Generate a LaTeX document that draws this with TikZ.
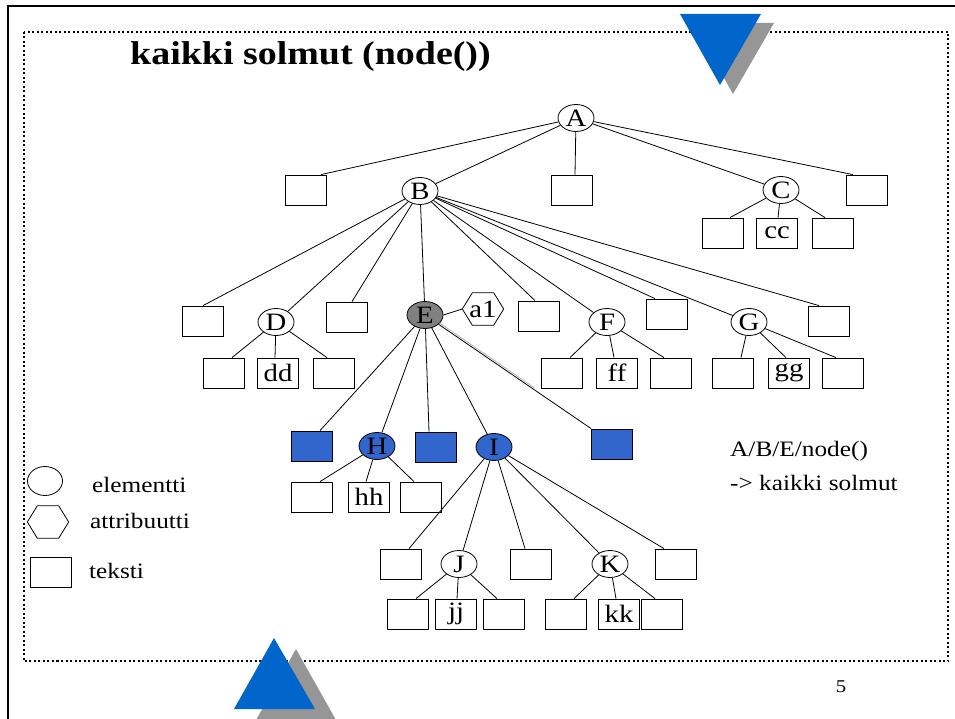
\documentclass[tikz,border=0pt]{standalone}
\usepackage{fontspec}
\setmainfont{Liberation Serif}[FakeStretch=1.15]
\usetikzlibrary{shapes.geometric}
\definecolor{triblue}{HTML}{0066CC}
\definecolor{trigray}{HTML}{969696}
\definecolor{nodeblue}{HTML}{3366CC}
\definecolor{egray}{HTML}{808080}
\newcommand{\lblfont}{\fontsize{22}{26}\selectfont}
\newcommand{\nodefont}{\fontsize{25}{28}\selectfont}
\newcommand{\titlefont}{\fontsize{33}{38}\selectfont\bfseries}
\begin{document}
\begin{tikzpicture}[x=1pt,y=-1pt,
  el/.style={ellipse, draw, line width=0.8pt, fill=white, minimum width=36pt, minimum height=27pt, inner sep=0pt, font=\nodefont},
  bx/.style={rectangle, draw, line width=0.8pt, fill=white, minimum width=41pt, minimum height=30pt, inner sep=0pt, font=\nodefont},
  hexa/.style={rectangle, minimum width=41pt, minimum height=32pt, inner sep=0pt, font=\nodefont},
  ln/.style={line width=0.8pt},
  txt/.style={anchor=base west, inner sep=0pt, font=\lblfont}]
\useasboundingbox (0,0) rectangle (955,719);
% outer slide border
\draw[line width=2.5pt] (8,719) -- (8,6) -- (955,6);
% dotted frame
\draw[line width=2pt, dash pattern=on 2pt off 2.5pt] (24,32) rectangle (948,661);
% triangles
\fill[trigray] (693,23) -- (774,23) -- (733,94) -- cycle;
\fill[triblue] (680,14) -- (761,14) -- (720,85) -- cycle;
\fill[trigray] (296,649) -- (256,720) -- (336,720) -- cycle;
\fill[triblue] (274,638) -- (234,709) -- (315,709) -- cycle;
% title
\node[anchor=base west, inner sep=0pt, font=\titlefont] (title) at (130,65) {kaikki solmut (node())};
% level 0/1
\node[el] (A) at (576,118) {A};
\node[bx] (ra1) at (306,190) {};
\node[el] (B) at (420,191) {B};
\node[bx] (ra2) at (572,190) {};
\node[el] (C) at (781,190) {C};
\node[bx] (ra3) at (867,190) {};
\node[bx] (rc1) at (723,233) {};
\node[bx] (cc) at (777,233) {cc};
\node[bx] (rc3) at (833,233) {};
% level 2
\node[bx] (rb1) at (203,321) {};
\node[el] (D) at (276,322) {D};
\node[bx] (rb2) at (347,317) {};
\node[el, fill=egray] (E) at (425,315) {E};
\node[hexa] (a1) at (483,309) {a1};
\draw[line width=0.8pt] (a1.west) -- ([xshift=10pt]a1.north west) -- ([xshift=-10pt]a1.north east) -- (a1.east) -- ([xshift=-10pt]a1.south east) -- ([xshift=10pt]a1.south west) -- cycle;
\node[bx] (rb3) at (539,316) {};
\node[el] (F) at (607,322) {F};
\node[bx] (rb4) at (667,314) {};
\node[el] (G) at (749,322) {G};
\node[bx] (rb5) at (829,321) {};
\node[bx] (rd1) at (224,373) {};
\node[bx] (dd) at (278,373) {dd};
\node[bx] (rd3) at (334,373) {};
\node[bx] (rf1) at (562,373) {};
\node[bx] (ff) at (617,373) {ff};
\node[bx] (rf3) at (671,373) {};
\node[bx] (rg1) at (733,373) {};
\node[bx] (gg) at (789,373) {gg};
\node[bx] (rg3) at (843,373) {};
% level 3 (children of E)
\node[bx, fill=nodeblue] (bl1) at (312,446) {};
\node[el, fill=nodeblue] (H) at (377,446) {H};
\node[bx, fill=nodeblue] (bl2) at (436,447) {};
\node[el, fill=nodeblue] (I) at (494,447) {I};
\node[bx, fill=nodeblue] (bl3) at (612,444) {};
\node[bx] (rh1) at (312,497) {};
\node[bx] (hh) at (369,497) {hh};
\node[bx] (rh3) at (421,497) {};
% children of I
\node[bx] (ri1) at (401,564) {};
\node[el] (J) at (459,564) {J};
\node[bx] (ri2) at (531,564) {};
\node[el] (K) at (610,564) {K};
\node[bx] (ri3) at (676,564) {};
\node[bx] (rj1) at (408,614) {};
\node[bx] (jj) at (456,614) {jj};
\node[bx] (rj3) at (504,614) {};
\node[bx] (rk1) at (566,614) {};
\node[bx] (kk) at (619,614) {kk};
\node[bx] (rk3) at (662,614) {};
% connectors
\draw[ln] (A) -- ([xshift=15pt]ra1.north);
\draw[ln] (A) -- (B);
\draw[ln] (A) -- ([xshift=3pt]ra2.north);
\draw[ln] (A) -- (C);
\draw[ln] (A) -- ([xshift=-14pt]ra3.north);
\draw[ln] (C) -- ([xshift=7pt]rc1.north);
\draw[ln] (C) -- ([xshift=1pt]cc.north);
\draw[ln] (C) -- ([xshift=-8pt]rc3.north);
\draw[ln] (B) -- (rb1.north);
\draw[ln] (B) -- (D);
\draw[ln] (B) -- ([xshift=5pt]rb2.north);
\draw[ln] (B) -- (E);
\draw[ln] (B) -- ([xshift=-4pt]rb3.north);
\draw[ln] (B) -- (F);
\draw[ln] (B) -- ([xshift=-12pt]rb4.north);
\draw[ln] (B) -- (G);
\draw[ln] (B) -- ([xshift=-10pt]rb5.north);
\draw[ln] (D) -- ([xshift=8pt]rd1.north);
\draw[ln] (D) -- ([xshift=-3pt]dd.north);
\draw[ln] (D) -- ([xshift=-7pt]rd3.north);
\draw[ln] (F) -- ([xshift=8pt]rf1.north);
\draw[ln] (F) -- ([xshift=-3pt]ff.north);
\draw[ln] (F) -- ([xshift=-7pt]rf3.north);
\draw[ln] (G) -- ([xshift=8pt]rg1.north);
\draw[ln] (G) -- ([xshift=-3pt]gg.north);
\draw[ln] (G) -- ([xshift=-7pt]rg3.north);
\draw[ln] (E.east) -- (a1.west);
\draw[ln] (E) -- ([xshift=8pt]bl1.north);
\draw[ln] (E) -- (H);
\draw[ln] (E) -- ([xshift=-7pt]bl2.north);
\draw[ln] (E) -- (I);
\draw[ln] (E) -- (bl3.north west);
\draw[ln, gray!60, transform canvas={shift={(1pt,1.3pt)}}, shorten >=70pt] (E) -- (bl3.north west);
\draw[ln] (H) -- ([xshift=8pt]rh1.north);
\draw[ln] (H) -- ([xshift=-3pt]hh.north);
\draw[ln] (H) -- ([xshift=-7pt]rh3.north);
\draw[ln] (I) -- ([xshift=8pt]ri1.north);
\draw[ln] (I) -- (J);
\draw[ln] (I) -- ([xshift=-6pt]ri2.north);
\draw[ln] (I) -- (K);
\draw[ln] (I) -- ([xshift=-12pt]ri3.north);
\draw[ln] (J) -- ([xshift=8pt]rj1.north);
\draw[ln] (J) -- ([xshift=1pt]jj.north);
\draw[ln] (J) -- ([xshift=-7pt]rj3.north);
\draw[ln] (K) -- ([xshift=8pt]rk1.north);
\draw[ln] (K) -- ([xshift=-3pt]kk.north);
\draw[ln] (K) -- ([xshift=-7pt]rk3.north);
% legend
\node[el, minimum width=35pt, minimum height=29pt] (lgel) at (45,481) {};
\node[hexa] (lghex) at (48,522) {};
\draw[line width=0.8pt] (lghex.west) -- ([xshift=10pt]lghex.north west) -- ([xshift=-10pt]lghex.north east) -- (lghex.east) -- ([xshift=-10pt]lghex.south east) -- ([xshift=10pt]lghex.south west) -- cycle;
\node[bx] (lgbx) at (51,572) {};
\node[txt] (lgt1) at (92,492) {elementti};
\node[txt] (lgt2) at (90,528) {attribuutti};
\node[txt] (lgt3) at (89,578) {teksti};
% right text
\node[txt] (path) at (730,456) {A/B/E/node()};
\node[txt] (res) at (730,490) {-> kaikki solmut};
% page number
\node[inner sep=0pt, font=\fontsize{18}{20}\selectfont] (pnum) at (841,687) {5};
\end{tikzpicture}
\end{document}
